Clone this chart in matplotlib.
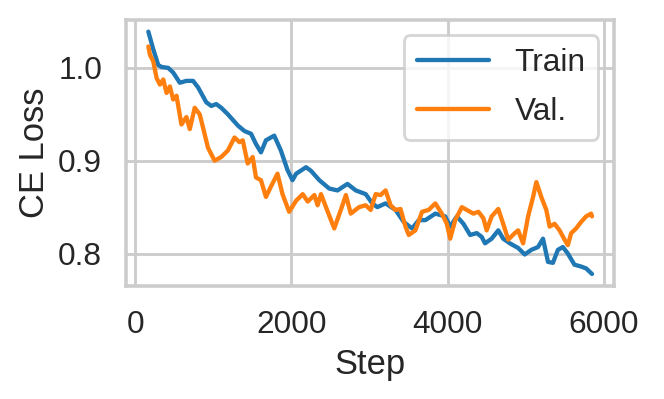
import matplotlib
matplotlib.use('Agg')
import matplotlib.pyplot as plt
import seaborn as sns

# Values
train_steps = [166, 229, 293, 335, 420, 484, 569, 654, 739, 803, 908, 972, 1036, 1100,
               1185, 1312, 1397, 1482, 1545, 1609, 1673, 1779, 1864, 1949, 2013, 2060,
               2187, 2251, 2357, 2484, 2590, 2717, 2824, 2951, 3036, 3100, 3206, 3333,
               3439, 3545, 3631, 3716, 3843, 3970, 4034, 4119, 4204, 4289, 4374, 4437,
               4480, 4565, 4650, 4713, 4798, 4904, 4989, 5074, 5159, 5223, 5287, 5350,
               5414, 5478, 5541, 5626, 5711, 5775, 5851]
train_loss = [1.039, 1.020, 1.003, 1.001, 1.000, 0.995, 0.984, 0.986, 0.986, 0.979, 0.963,
              0.959, 0.961, 0.957, 0.950, 0.938, 0.932, 0.929, 0.918, 0.909, 0.922, 0.927,
              0.911, 0.890, 0.879, 0.886, 0.893, 0.889, 0.879, 0.870, 0.868, 0.875, 0.868,
              0.864, 0.854, 0.850, 0.854, 0.847, 0.834, 0.827, 0.836, 0.836, 0.843, 0.840,
              0.829, 0.840, 0.832, 0.820, 0.822, 0.818, 0.811, 0.816, 0.825, 0.816, 0.811,
              0.806, 0.799, 0.804, 0.807, 0.816, 0.791, 0.790, 0.804, 0.807, 0.800, 0.788,
              0.786, 0.784, 0.778]

val_steps = [166, 187, 229, 272, 314, 357, 399, 442, 484, 527, 590, 654, 697, 760, 824,
             866, 930, 1015, 1100, 1185, 1270, 1333, 1376, 1439, 1503, 1545, 1609, 1673,
             1736, 1821, 1885, 1970, 2060, 2144, 2208, 2293, 2335, 2378, 2442, 2548, 2633,
             2697, 2760, 2866, 2951, 3015, 3079, 3142, 3206, 3270, 3333, 3397, 3461, 3503,
             3588, 3673, 3758, 3843, 3927, 3991, 4034, 4098, 4183, 4246, 4331, 4395, 4459,
             4501, 4565, 4650, 4713, 4777, 4862, 4904, 4968, 5032, 5096, 5138, 5201, 5265,
             5308, 5371, 5435, 5499, 5541, 5584, 5647, 5711, 5775, 5839, 5851]
val_loss = [1.023, 1.014, 1.007, 0.989, 0.982, 0.9875, 0.973, 0.980, 0.966, 0.970, 0.939,
            0.947, 0.934, 0.957, 0.950, 0.936, 0.914, 0.900, 0.904, 0.911, 0.925, 0.920,
            0.922, 0.897, 0.904, 0.882, 0.879, 0.861, 0.872, 0.886, 0.864, 0.845, 0.857,
            0.864, 0.856, 0.863, 0.852, 0.864, 0.850, 0.827, 0.847, 0.863, 0.843, 0.850,
            0.852, 0.847, 0.864, 0.863, 0.868, 0.852, 0.847, 0.848, 0.829, 0.820, 0.825,
            0.845, 0.847, 0.854, 0.843, 0.832, 0.816, 0.836, 0.850, 0.847, 0.843, 0.845,
            0.838, 0.825, 0.840, 0.848, 0.832, 0.815, 0.822, 0.825, 0.811, 0.840, 0.861,
            0.877, 0.861, 0.847, 0.829, 0.832, 0.825, 0.815, 0.809, 0.822, 0.827, 0.834,
            0.840, 0.843, 0.840]

sns.set_theme(style='whitegrid', context='talk')
plt.rcParams['font.family'] = ['Liberation Sans', 'DejaVu Sans']

dpi = 138
fig = plt.figure(figsize=(664 / dpi, 399 / dpi), dpi=dpi)
ax = fig.add_axes([0.190, 0.283, 0.735, 0.668])

ax.plot(train_steps, train_loss, color='#1f77b4', label='Train')
ax.plot(val_steps, val_loss, color='#ff7f0e', label='Val.')

ax.set_xticks([0, 2000, 4000, 6000])
ax.set_yticks([0.8, 0.9, 1.0])
ax.set_xlabel('Step')
ax.set_ylabel('CE Loss')
ax.legend(loc='upper right', handlelength=2.3, labelspacing=0.6)

fig.savefig('out.png', dpi=dpi)
